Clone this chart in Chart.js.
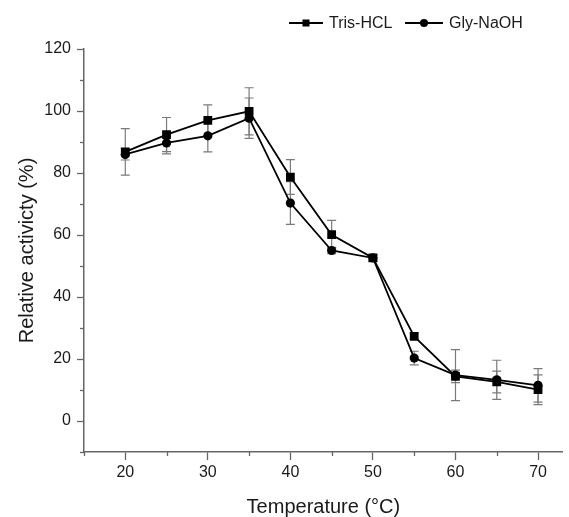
<!DOCTYPE html>
<html>
<head>
<meta charset="utf-8">
<script src="https://cdn.jsdelivr.net/npm/chart.js@4.4.1/dist/chart.umd.min.js"></script>
<style>
  html, body { margin: 0; padding: 0; background: #fff; }
  #wrap { width: 569px; height: 517px; }
</style>
</head>
<body>
<div id="wrap"><canvas id="c" width="569" height="517"></canvas></div>
<script>
// ---- data ----
const temperatures = [20, 25, 30, 35, 40, 45, 50, 55, 60, 65, 70];
const trisHCl      = [86.8, 92.4, 97.0, 99.9, 78.7, 60.1, 52.6, 27.3, 14.4, 12.6, 10.1];
const glyNaOH      = [86.0, 89.7, 92.0, 97.7, 70.3, 55.0, 52.6, 20.3, 14.8, 13.3, 11.5];
const trisErr      = [7.5, 5.5, 5.0, 7.6, 5.6, 4.6, 1.0, 1.0, 2.0, 3.5, 4.8];
const glyErr       = [1.8, 3.5, 5.2, 6.5, 6.9, 1.0, 1.0, 2.2, 8.2, 6.3, 5.4];
const seriesNames  = ['Tris-HCL', 'Gly-NaOH'];
const xTitle = 'Temperature (°C)';
const yTitle = 'Relative activicty (%)';

const FONT = "'Liberation Sans', Arial, sans-serif";
const AXIS = '#666';
const TXT = '#1a1a1a';

const pts = (xs, ys) => xs.map((x, i) => ({ x: x, y: ys[i] }));

const errorBars = {
  id: 'errorBars',
  beforeDatasetsDraw(chart) {
    const { ctx, scales: { x, y } } = chart;
    const errs = [trisErr, glyErr];
    const vals = [trisHCl, glyNaOH];
    ctx.save();
    ctx.strokeStyle = '#7a7a7a';
    ctx.lineWidth = 1.2;
    for (let s = 0; s < 2; s++) {
      temperatures.forEach((t, i) => {
        const px = x.getPixelForValue(t);
        const top = y.getPixelForValue(vals[s][i] + errs[s][i]);
        const bot = y.getPixelForValue(vals[s][i] - errs[s][i]);
        ctx.beginPath();
        ctx.moveTo(px, top); ctx.lineTo(px, bot);
        ctx.moveTo(px - 4.5, top); ctx.lineTo(px + 4.5, top);
        ctx.moveTo(px - 4.5, bot); ctx.lineTo(px + 4.5, bot);
        ctx.stroke();
      });
    }
    ctx.restore();
  }
};

const minorTicks = {
  id: 'minorTicks',
  afterDraw(chart) {
    const { ctx, scales: { x, y } } = chart;
    ctx.save();
    ctx.strokeStyle = AXIS;
    ctx.lineWidth = 1.3;
    x.ticks.forEach(t => {
      if (t.value % 10 !== 0) {
        const px = Math.round(x.getPixelForValue(t.value)) + 0.5;
        ctx.beginPath(); ctx.moveTo(px, x.top); ctx.lineTo(px, x.top + 4); ctx.stroke();
      }
    });
    y.ticks.forEach(t => {
      if (t.value % 20 !== 0) {
        const py = Math.round(y.getPixelForValue(t.value)) + 0.5;
        ctx.beginPath(); ctx.moveTo(y.right, py); ctx.lineTo(y.right - 4, py); ctx.stroke();
      }
    });
    ctx.restore();
  }
};

const customLegend = {
  id: 'customLegend',
  afterDraw(chart) {
    const { ctx } = chart;
    const cy = 23;
    const items = [
      { x0: 289, x1: 323, tx: 329, style: 'rect', label: seriesNames[0] },
      { x0: 405, x1: 443, tx: 449, style: 'circle', label: seriesNames[1] }
    ];
    ctx.save();
    ctx.font = '16px ' + FONT;
    ctx.textBaseline = 'middle';
    items.forEach(it => {
      ctx.strokeStyle = '#000';
      ctx.lineWidth = 2;
      ctx.beginPath(); ctx.moveTo(it.x0, cy); ctx.lineTo(it.x1, cy); ctx.stroke();
      const mx = (it.x0 + it.x1) / 2;
      ctx.fillStyle = '#000';
      if (it.style === 'rect') { ctx.fillRect(mx - 3.5, cy - 3.5, 7, 7); }
      else { ctx.beginPath(); ctx.arc(mx, cy, 4, 0, Math.PI * 2); ctx.fill(); }
      ctx.fillStyle = TXT;
      ctx.fillText(it.label, it.tx, cy + 1);
    });
    ctx.restore();
  }
};

new Chart(document.getElementById('c'), {
  type: 'line',
  data: {
    datasets: [
      {
        label: seriesNames[0],
        data: pts(temperatures, trisHCl),
        borderColor: '#000', backgroundColor: '#000',
        borderWidth: 1.8, pointStyle: 'rect', pointRadius: 6.2, pointBorderWidth: 0,
        tension: 0
      },
      {
        label: seriesNames[1],
        data: pts(temperatures, glyNaOH),
        borderColor: '#000', backgroundColor: '#000',
        borderWidth: 1.8, pointStyle: 'circle', pointRadius: 4.6, pointBorderWidth: 0,
        tension: 0
      }
    ]
  },
  options: {
    responsive: false,
    animation: false,
    layout: { padding: { top: 49, right: 1, left: 11, bottom: 0 } },
    plugins: { legend: { display: false }, tooltip: { enabled: false } },
    scales: {
      x: {
        type: 'linear', min: 15, max: 73,
        border: { display: true, color: AXIS, width: 1.5 },
        grid: {
          drawOnChartArea: false, drawTicks: true, tickLength: 8,
          tickColor: c => (c.tick && c.tick.value % 10 === 0) ? AXIS : 'rgba(0,0,0,0)',
          tickWidth: 1.3
        },
        ticks: {
          stepSize: 5, includeBounds: false, autoSkip: false, maxRotation: 0,
          color: TXT, font: { family: FONT, size: 16 }, padding: 3,
          callback: v => (v % 10 === 0 ? v : '')
        },
        title: { display: true, text: xTitle, color: TXT, font: { family: FONT, size: 20, lineHeight: 1.0 }, padding: { top: 4, bottom: 0 } },
        afterFit: s => { s.height = 65; }
      },
      y: {
        type: 'linear', min: -10, max: 120,
        border: { display: true, color: AXIS, width: 1.5 },
        grid: {
          drawOnChartArea: false, drawTicks: true, tickLength: 7,
          tickColor: c => (c.tick && c.tick.value % 20 === 0) ? AXIS : 'rgba(0,0,0,0)',
          tickWidth: 1.3
        },
        ticks: {
          stepSize: 10, autoSkip: false,
          color: TXT, font: { family: FONT, size: 16 }, padding: 6,
          callback: v => (v % 20 === 0 ? v : '')
        },
        title: { display: true, text: yTitle, color: TXT, font: { family: FONT, size: 20 }, padding: { top: 4, bottom: 4 } },
        afterFit: s => { s.width = 73; }
      }
    }
  },
  plugins: [errorBars, minorTicks, customLegend]
});
</script>
</body>
</html>
